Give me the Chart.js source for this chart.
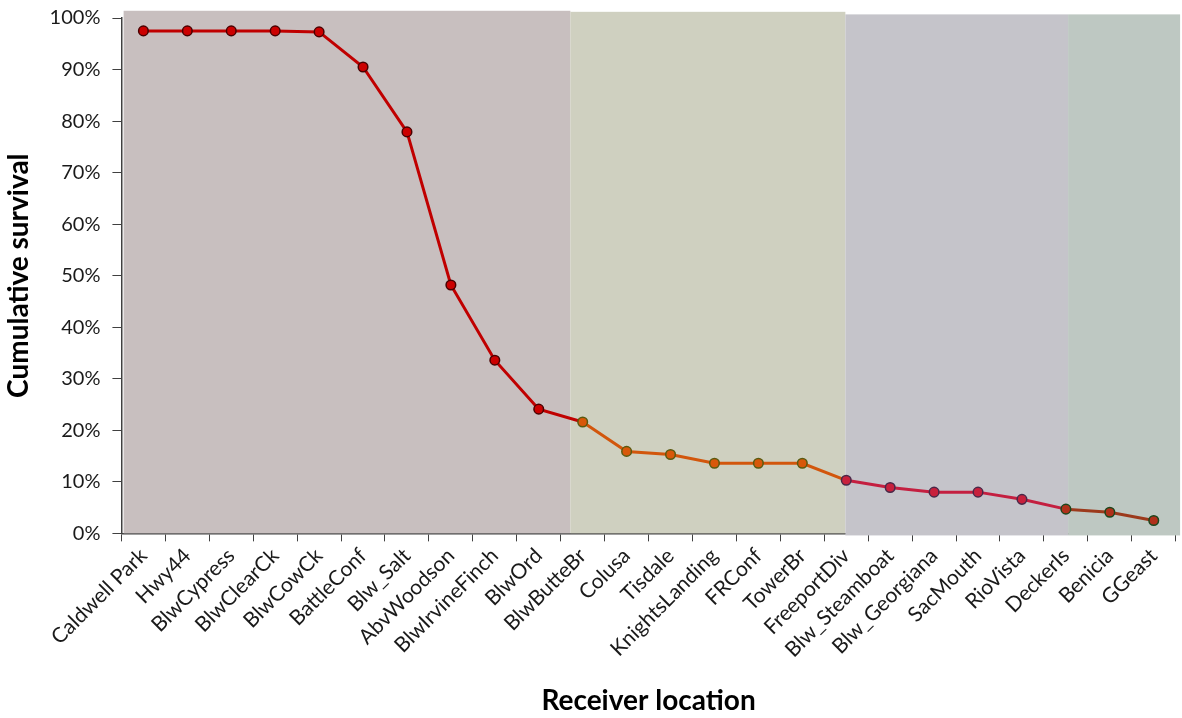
<!DOCTYPE html>
<html>
<head>
<meta charset="utf-8">
<script src="https://cdn.jsdelivr.net/npm/chart.js@4/dist/chart.umd.min.js"></script>
<style>
  html, body { margin: 0; padding: 0; background: #ffffff; }
  #wrap { width: 1182px; height: 718px; position: relative; }
</style>
</head>
<body>
<div id="wrap"><canvas id="c" width="1182" height="718"></canvas></div>
<script>
const categories = ["Caldwell Park","Hwy44","BlwCypress","BlwClearCk","BlwCowCk","BattleConf","Blw_Salt","AbvWoodson","BlwIrvineFinch","BlwOrd","BlwButteBr","Colusa","Tisdale","KnightsLanding","FRConf","TowerBr","FreeportDiv","Blw_Steamboat","Blw_Georgiana","SacMouth","RioVista","DeckerIs","Benicia","GGeast"];
const survival = [97.5, 97.5, 97.5, 97.5, 97.3, 90.5, 77.9, 48.2, 33.6, 24.1, 21.6, 15.9, 15.3, 13.6, 13.6, 13.6, 10.3, 8.9, 8.0, 8.0, 6.6, 4.7, 4.1, 2.5];
const yTicks = [0, 10, 20, 30, 40, 50, 60, 70, 80, 90, 100];
// river reaches (index of first station in each reach)
const reachStart = [0, 10, 16, 21];
const reachBandFrom = [-0.45, 9.72, 15.98, 21.05];
const reachBandTo = [9.72, 15.98, 21.05, 23.6];
const reachBandTop = [101.4, 101.2, 100.7, 100.7];
const reachBandBottom = [0, 0, -0.4, -0.4];
const reachFill = ["#c8bfbf", "#cfd0c0", "#c5c4ca", "#bec8c2"];
const reachLine = ["#c00000", "#d2560c", "#c41f40", "#9c3a1c"];
const reachPoint = ["#cc0000", "#d8580a", "#c8203c", "#b0301a"];
const reachPointBorder = ["#4a0000", "#5a5a10", "#4a2848", "#1c461c"];

function reachOf(i) {
  let r = 0;
  for (let k = 0; k < reachStart.length; k++) if (i >= reachStart[k]) r = k;
  return r;
}

const bandPlugin = {
  id: 'bands',
  beforeDatasetsDraw(chart) {
    const { ctx, scales: { x, y } } = chart;
    ctx.save();
    for (let k = 0; k < reachFill.length; k++) {
      const x0 = x.getPixelForValue(reachBandFrom[k]);
      const x1 = x.getPixelForValue(reachBandTo[k]);
      const y0 = y.getPixelForValue(reachBandTop[k]);
      const y1 = y.getPixelForValue(reachBandBottom[k]);
      ctx.fillStyle = reachFill[k];
      ctx.fillRect(x0, y0, x1 - x0, y1 - y0);
    }
    ctx.restore();
  }
};

const FONT = "Lato, 'Open Sans', sans-serif";

new Chart(document.getElementById('c'), {
  type: 'line',
  data: {
    labels: categories,
    datasets: [{
      data: survival,
      borderWidth: 3,
      pointRadius: 4.8,
      pointHoverRadius: 4.8,
      pointBorderWidth: 1.5,
      pointBackgroundColor: survival.map((v, i) => reachPoint[reachOf(i)]),
      pointBorderColor: survival.map((v, i) => reachPointBorder[reachOf(i)]),
      borderColor: reachLine[0],
      segment: {
        borderColor: ctx => reachLine[reachOf(ctx.p0DataIndex)]
      },
      tension: 0,
      fill: false,
      clip: false
    }]
  },
  options: {
    responsive: false,
    animation: false,
    devicePixelRatio: 1,
    layout: { padding: { top: 18, right: -14, bottom: 0, left: 0 } },
    plugins: {
      legend: { display: false },
      tooltip: { enabled: false }
    },
    scales: {
      x: {
        type: 'category',
        offset: true,
        grid: {
          offset: true,
          drawOnChartArea: false,
          drawTicks: true,
          tickLength: 8,
          color: '#404040',
          lineWidth: 1
        },
        border: { display: true, color: '#404040', width: 1.5 },
        ticks: {
          maxRotation: 45,
          minRotation: 45,
          autoSkip: false,
          padding: 2,
          color: '#1a1a1a',
          font: { family: FONT, size: 21 }
        },
        title: {
          display: true,
          text: 'Receiver location',
          color: '#000',
          padding: { top: 20, bottom: 0 },
          font: { family: FONT, size: 28, weight: 'bold' }
        }
      },
      y: {
        min: 0,
        max: 100,
        afterBuildTicks: axis => { axis.ticks = yTicks.map(v => ({ value: v })); },
        afterFit: axis => { axis.paddingTop = 0; axis.paddingBottom = 0; },
        grid: {
          drawOnChartArea: false,
          drawTicks: true,
          tickLength: 9,
          color: '#404040',
          lineWidth: 1
        },
        border: { display: true, color: '#404040', width: 1.5 },
        ticks: {
          padding: 12,
          color: '#1a1a1a',
          font: { family: FONT, size: 20 },
          callback: v => v + '%'
        },
        title: {
          display: true,
          text: 'Cumulative survival',
          color: '#000',
          padding: { top: 2, bottom: 2 },
          font: { family: FONT, size: 28, weight: 'bold' }
        }
      }
    }
  },
  plugins: [bandPlugin]
});
</script>
</body>
</html>
